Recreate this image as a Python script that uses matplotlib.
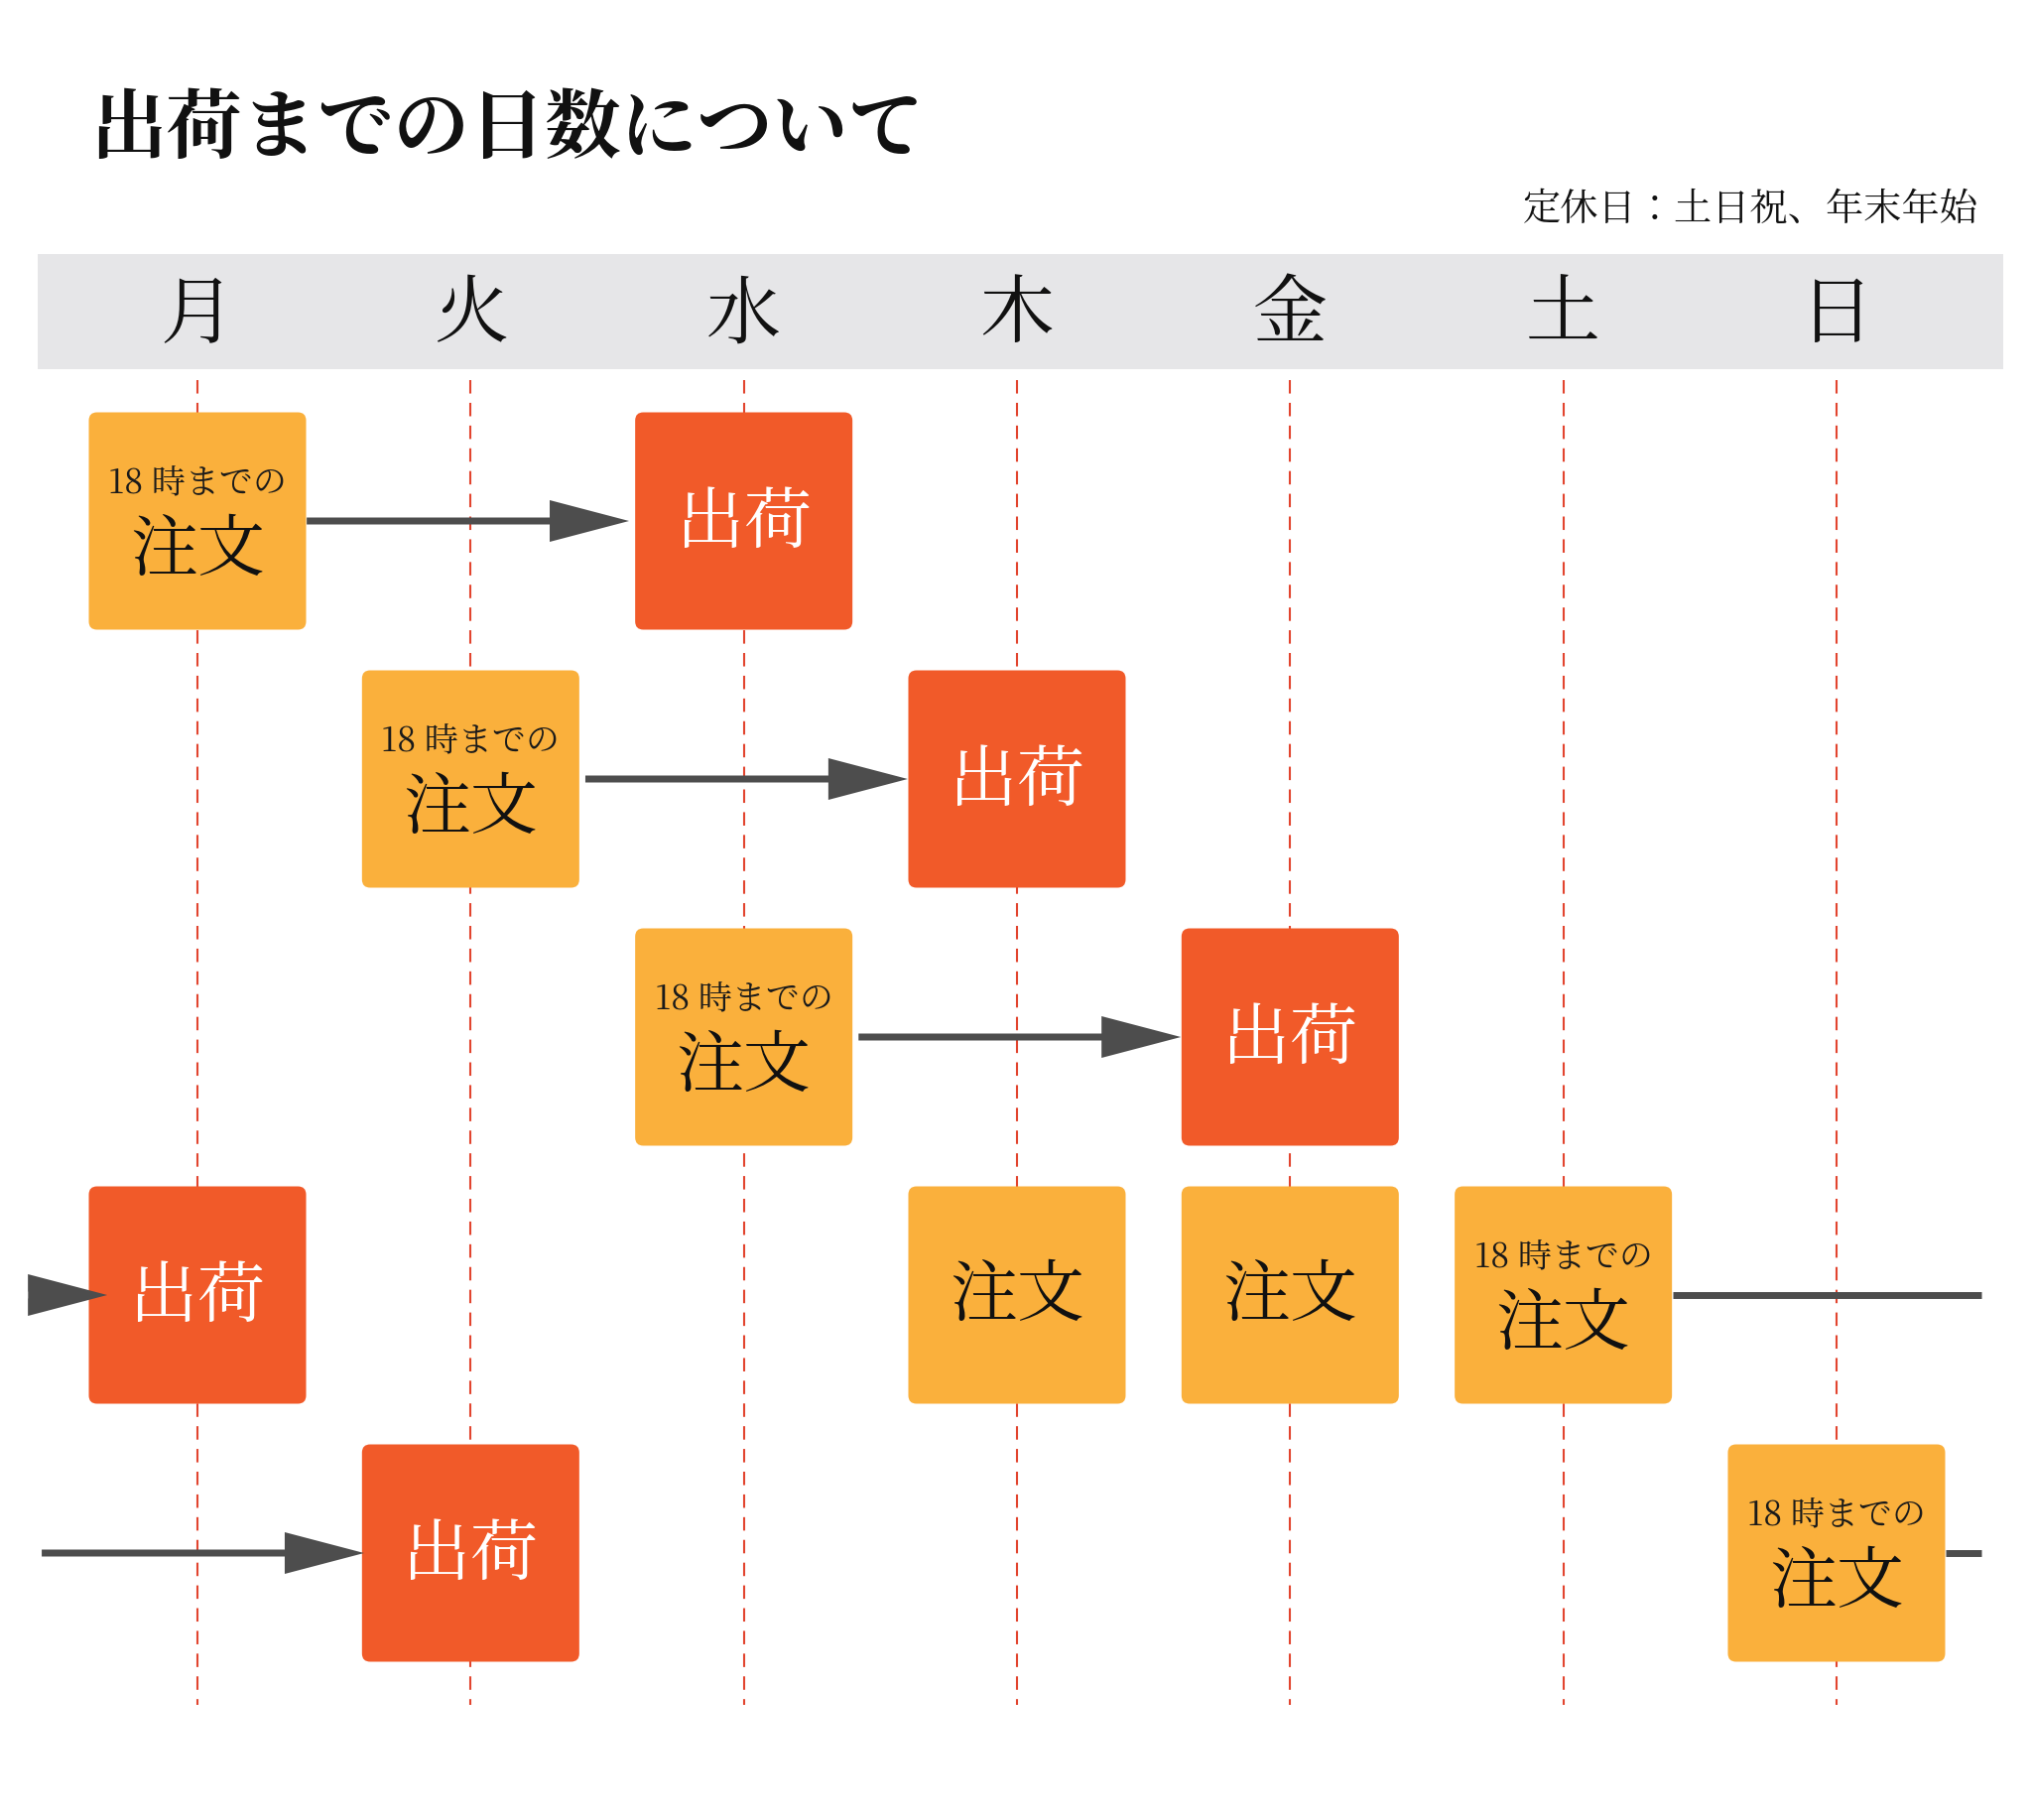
import matplotlib
matplotlib.use("Agg")
import matplotlib.pyplot as plt
from matplotlib import font_manager
from matplotlib.patches import FancyBboxPatch, Rectangle

# 使えるフォント（明朝があれば明朝、なければゴシック）
names = set(f.name for f in font_manager.fontManager.ttflist)
jp_font = "Noto Serif CJK JP" if "Noto Serif CJK JP" in names else "Noto Sans CJK JP"
plt.rcParams['font.family'] = [jp_font, 'DejaVu Sans']

title = "出荷までの日数について"
subtitle = "定休日：土日祝、年末年始"
days = ["月", "火", "水", "木", "金", "土", "日"]

# 注文（行, 曜日, 「18時までの」あり）
order_rows = [0, 1, 2, 3, 3, 3, 4]
order_days = [0, 1, 2, 3, 4, 5, 6]
order_note = [True, True, True, False, False, True, True]

# 出荷（行, 曜日）
ship_rows = [0, 1, 2, 3, 4]
ship_days = [2, 3, 4, 0, 1]

# 矢印（行, 始点, 終点 ＝ 曜日単位, 矢じり）
arrow_rows = [0, 1, 2, 3, 3, 4, 4]
arrow_from = [0.40, 1.42, 2.42, -0.62, 5.40, -0.57, 6.40]
arrow_to = [1.58, 2.60, 3.60, -0.33, 6.53, 0.61, 6.53]
arrow_head = [True, True, True, True, False, True, False]

c_order = "#FAB03C"
c_ship = "#F15A29"
c_arrow = "#4D4D4D"
c_dash = "#E2452F"
c_band = "#E6E6E8"

W, H = 2048, 1834
col_w, row_h = 275.33, 260.0   # px per day / per row
x0_px, y0_px = 199, 525        # 月 の列, 1行目の中心

fig = plt.figure(figsize=(W / 100, H / 100), dpi=100)
ax = fig.add_axes([0, 0, 1, 1])
xmin = -x0_px / col_w
ax.set_xlim(xmin, xmin + W / col_w)
ymin = -y0_px / row_h
ax.set_ylim(ymin + H / row_h, ymin)
ax.axis("off")

box_w = 219 / col_w
box_h = 219 / row_h

# 曜日の帯
ax.add_patch(Rectangle(((38 - x0_px) / col_w, (256 - y0_px) / row_h),
                       (2019 - 38) / col_w, (372 - 256) / row_h,
                       facecolor=c_band, edgecolor="none", zorder=1))
for i, d in enumerate(days):
    ax.text(i, (319 - y0_px) / row_h, d, fontsize=54, ha="center", va="center",
            color="#111111", zorder=2)

# 点線
ax.vlines(range(len(days)), (383 - y0_px) / row_h, (1718 - y0_px) / row_h,
          colors=c_dash, linewidth=1.5, linestyles=(0, (6.5, 4.5)), zorder=2)


def box(x, y, color):
    ax.add_patch(FancyBboxPatch((x - box_w / 2, y - box_h / 2), box_w, box_h,
                                boxstyle="round,pad=0,rounding_size=0.03",
                                mutation_aspect=col_w / row_h,
                                facecolor=color, edgecolor="none", zorder=4))


for r, d, note in zip(order_rows, order_days, order_note):
    box(d, r, c_order)
    if note:
        ax.text(d, r - 38 / row_h, "18 時までの", fontsize=24.5, ha="center",
                va="center", color="#1a1a1a", zorder=5)
        ax.text(d, r + 32 / row_h, "注文", fontsize=49, ha="center",
                va="center", color="#111111", zorder=5)
    else:
        ax.text(d, r + 3 / row_h, "注文", fontsize=49, ha="center", va="center",
                color="#111111", zorder=5)

for r, d in zip(ship_rows, ship_days):
    box(d, r, c_ship)
    ax.text(d, r + 4 / row_h, "出荷", fontsize=49, ha="center", va="center",
            color="white", zorder=5)

for r, a, b, head in zip(arrow_rows, arrow_from, arrow_to, arrow_head):
    if head:
        ax.arrow(a, r, b - a, 0, width=7 / row_h, head_width=42 / row_h,
                 head_length=80 / col_w, length_includes_head=True,
                 color=c_arrow, linewidth=0, zorder=6)
    else:
        ax.hlines(r, a, b, colors=c_arrow, linewidth=5, zorder=6)

fig.text(91 / W, 1 - 132 / H, title, fontsize=55, fontweight="bold",
         ha="left", va="center", color="#111111")
fig.text(1994 / W, 1 - 212 / H, subtitle, fontsize=27.5, ha="right",
         va="center", color="#111111")

fig.savefig("out.png", dpi=100, facecolor="white")
